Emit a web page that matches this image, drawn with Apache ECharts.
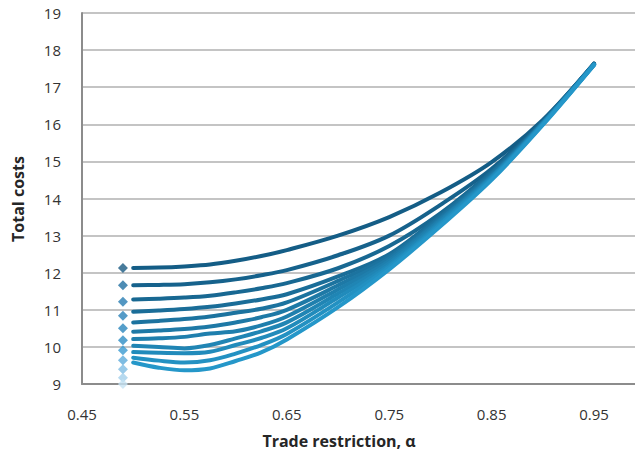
<!DOCTYPE html>
<html>
<head>
<meta charset="utf-8">
<script src="https://cdn.jsdelivr.net/npm/echarts@6/dist/echarts.min.js"></script>
<style>
  html, body { margin: 0; padding: 0; background: #ffffff; }
  #chart { width: 635px; height: 457px; }
</style>
</head>
<body>
<div id="chart"></div>
<script>
// Trade restriction values at which each cost curve is sampled
const alphaGrid = [0.50, 0.525, 0.55, 0.575, 0.60, 0.625, 0.65, 0.70, 0.75, 0.80, 0.85, 0.90, 0.95];

// Total cost curves, from the highest starting level to the lowest
const cost1  = [12.13, 12.14, 12.17, 12.22, 12.32, 12.45, 12.61, 13.00, 13.50, 14.16, 14.98, 16.12, 17.64];
const cost2  = [11.66, 11.67, 11.69, 11.74, 11.82, 11.93, 12.07, 12.47, 13.00, 13.83, 14.80, 16.09, 17.63];
const cost3  = [11.28, 11.30, 11.33, 11.38, 11.47, 11.58, 11.72, 12.12, 12.72, 13.60, 14.73, 16.07, 17.63];
const cost4  = [10.95, 10.98, 11.02, 11.08, 11.17, 11.28, 11.42, 11.90, 12.50, 13.55, 14.70, 16.06, 17.62];
const cost5  = [10.66, 10.70, 10.75, 10.82, 10.92, 11.03, 11.20, 11.78, 12.44, 13.50, 14.66, 16.05, 17.62];
const cost6  = [10.41, 10.44, 10.48, 10.55, 10.66, 10.80, 11.00, 11.66, 12.38, 13.45, 14.63, 16.04, 17.62];
const cost7  = [10.21, 10.23, 10.27, 10.36, 10.42, 10.58, 10.82, 11.55, 12.32, 13.42, 14.60, 16.03, 17.61];
const cost8  = [10.03, 10.00, 9.96, 10.05, 10.23, 10.42, 10.66, 11.44, 12.26, 13.38, 14.58, 16.02, 17.61];
const cost9  = [9.86, 9.84, 9.83, 9.87, 10.05, 10.24, 10.50, 11.33, 12.20, 13.34, 14.56, 16.01, 17.61];
const cost10 = [9.71, 9.63, 9.58, 9.64, 9.82, 10.05, 10.35, 11.20, 12.15, 13.30, 14.53, 16.00, 17.60];
const cost11 = [9.58, 9.44, 9.37, 9.42, 9.62, 9.85, 10.20, 11.07, 12.09, 13.25, 14.50, 15.98, 17.60];
const costCurves = [cost1, cost2, cost3, cost4, cost5, cost6, cost7, cost8, cost9, cost10, cost11];

// Reference levels marked with diamonds just left of the curves
const markerAlpha = 0.49;
const markerCosts = [12.13, 11.66, 11.22, 10.84, 10.50, 10.18, 9.91, 9.64, 9.40, 9.17, 9.00];

// Axis tick labels
const xTickValues = [0.45, 0.55, 0.65, 0.75, 0.85, 0.95];
const yTickMin = 9, yTickMax = 19, yTickStep = 1;

const lineColors = ['#145d86', '#16628c', '#186892', '#1a6d98', '#1c739f', '#1e79a6',
                    '#1f7fad', '#2085b4', '#218bbb', '#2391c2', '#2597c9'];
const markerColors = ['#1a5a82', '#206fa1', '#287db3', '#2a82b9', '#2b86bd', '#2e8dc4',
                      '#3a9ad1', '#5eabdb', '#80bde3', '#a4d0eb', '#c6e2f3'];

const font = '"Open Sans", "Noto Sans", sans-serif';

const series = costCurves.map((costs, i) => ({
  type: 'line',
  name: 'curve' + (i + 1),
  data: alphaGrid.map((a, k) => [a, costs[k]]),
  smooth: 0.35,
  showSymbol: false,
  symbol: 'none',
  lineStyle: { color: lineColors[i], width: 4, cap: 'round', join: 'round' },
  z: 3 + i * 0.01,
  animation: false
}));

series.push({
  type: 'scatter',
  name: 'markers',
  data: markerCosts.map((c, i) => ({
    value: [markerAlpha, c],
    itemStyle: { color: markerColors[i] }
  })),
  symbol: 'diamond',
  symbolSize: 10,
  clip: false,
  z: 5,
  animation: false
});

const chart = echarts.init(document.getElementById('chart'), null, { renderer: 'svg' });
chart.setOption({
  animation: false,
  backgroundColor: '#ffffff',
  grid: { left: 82, right: 0, top: 13, bottom: 73, containLabel: false },
  xAxis: {
    type: 'value',
    min: 0.45,
    max: 0.99,
    axisLine: { show: true, onZero: false, lineStyle: { color: '#8c8c8c', width: 2 } },
    axisTick: { show: false },
    splitLine: { show: false },
    axisLabel: {
      customValues: xTickValues,
      formatter: v => v.toFixed(2),
      color: '#333333',
      fontSize: 15,
      fontFamily: font,
      margin: 22
    }
  },
  yAxis: {
    type: 'value',
    min: yTickMin,
    max: yTickMax,
    interval: yTickStep,
    axisLine: { show: true, lineStyle: { color: '#8c8c8c', width: 2 } },
    axisTick: { show: false },
    splitLine: { show: true, lineStyle: { color: '#b0b0b0', width: 1.5 } },
    axisLabel: {
      color: '#333333',
      fontSize: 15,
      fontFamily: font,
      margin: 21
    }
  },
  graphic: [
    {
      type: 'text',
      x: 339, y: 441,
      style: {
        text: 'Trade restriction, α',
        font: 'bold 16px ' + font,
        fill: '#262626',
        textAlign: 'center',
        textVerticalAlign: 'middle'
      }
    },
    {
      type: 'text',
      x: 18, y: 199,
      rotation: Math.PI / 2,
      style: {
        text: 'Total costs',
        font: 'bold 16px ' + font,
        fill: '#262626',
        textAlign: 'center',
        textVerticalAlign: 'middle'
      }
    }
  ],
  series: series
});
</script>
</body>
</html>
